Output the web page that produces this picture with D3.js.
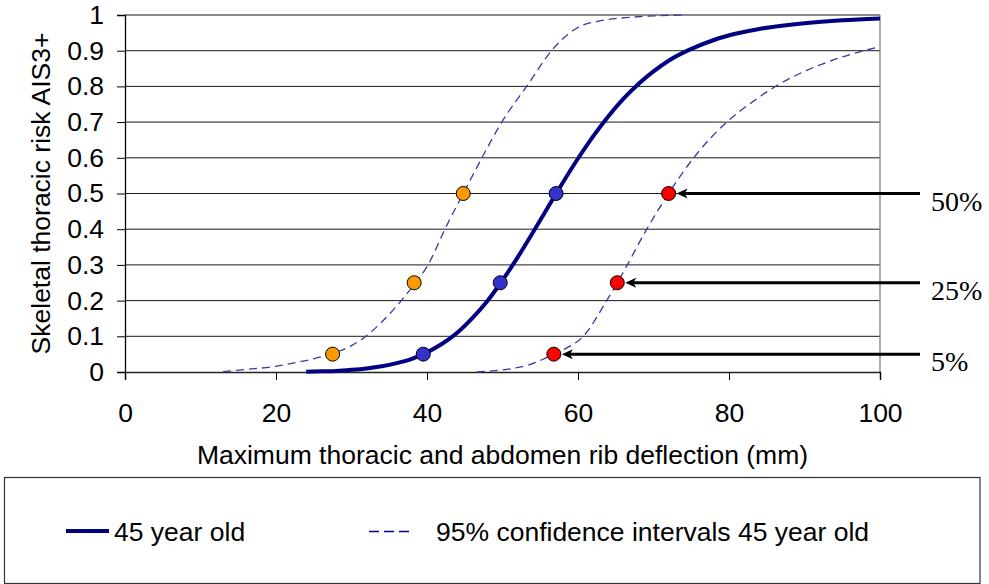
<!DOCTYPE html>
<html>
<head>
<meta charset="utf-8">
<script src="https://cdn.jsdelivr.net/npm/d3@7"></script>
<style>
  html, body { margin: 0; padding: 0; background: #fff; }
  svg { display: block; }
</style>
</head>
<body>
<svg id="chart" width="989" height="584"></svg>
<script>
// ---- data ----
const xTicks = [0, 20, 40, 60, 80, 100];
const yTicks = [0, 0.1, 0.2, 0.3, 0.4, 0.5, 0.6, 0.7, 0.8, 0.9, 1];

const mainX = [24, 26, 28, 30, 32, 34, 36, 38, 40, 42, 44, 46, 48, 50, 52, 54, 56, 58, 60, 62, 64, 66, 68, 70, 72, 75, 78, 81, 84, 87, 90, 95, 100];
const mainP = [0.001, 0.002, 0.003, 0.006, 0.01, 0.016, 0.025, 0.037, 0.055, 0.079, 0.11, 0.151, 0.199, 0.257, 0.321, 0.39, 0.461, 0.531, 0.598, 0.66, 0.716, 0.765, 0.807, 0.842, 0.872, 0.905, 0.93, 0.948, 0.961, 0.97, 0.977, 0.985, 0.99];

const lowerX = [13, 16, 20, 23, 25, 27.5, 30, 31.6, 34, 36.6, 38.3, 40, 42.6, 44.8, 47.4, 49.9, 53.2, 56.5, 59.8, 63, 67.3, 74];
const lowerP = [0.001, 0.007, 0.016, 0.028, 0.037, 0.052, 0.074, 0.095, 0.14, 0.20, 0.245, 0.295, 0.41, 0.50, 0.605, 0.70, 0.80, 0.90, 0.963, 0.984, 0.994, 1.0];

const upperX = [46.6, 49, 51.4, 53.5, 55.3, 56.8, 58, 60.7, 63.8, 65.2, 66.4, 68.7, 72.0, 75.7, 79.7, 83.2, 86.8, 90.3, 93.8, 97.3, 100];
const upperP = [0.0, 0.004, 0.010, 0.02, 0.035, 0.05, 0.062, 0.10, 0.20, 0.25, 0.295, 0.385, 0.50, 0.61, 0.70, 0.758, 0.808, 0.845, 0.874, 0.897, 0.911];

const riskLevels = [0.05, 0.25, 0.5];
const lowerPtsX = [27.5, 38.3, 44.8];
const mainPtsX  = [39.5, 49.7, 57.1];
const upperPtsX = [56.8, 65.2, 72.0];
const riskLabels = ["5%", "25%", "50%"];

const xTitle = "Maximum thoracic and abdomen rib deflection (mm)";
const yTitle = "Skeletal thoracic risk AIS3+";
const legendLabels = ["45 year old", "95% confidence intervals 45 year old"];

// ---- drawing ----
const SANS = "'Liberation Sans', Arial, sans-serif";
const SERIF = "'Liberation Serif', 'Times New Roman', serif";
const svg = d3.select("#chart");
const FS = 26.5;
const x = d3.scaleLinear().domain([0, 100]).range([125, 880]);
const y = d3.scaleLinear().domain([0, 1]).range([372, 15]);

// gridlines
svg.append("g").selectAll("line").data(yTicks.filter(d => d > 0)).join("line")
  .attr("x1", x(0)).attr("x2", x(100))
  .attr("y1", d => y(d)).attr("y2", d => y(d))
  .attr("stroke", "#1a1a1a").attr("stroke-width", 1);

// right border
svg.append("line").attr("x1", x(100)).attr("x2", x(100)).attr("y1", y(1)).attr("y2", y(0))
  .attr("stroke", "#808080").attr("stroke-width", 1.3);

// y axis
const yAxis = svg.append("g").attr("transform", `translate(${x(0)},0)`)
  .call(d3.axisLeft(y).tickValues(yTicks).tickFormat(d3.format("")).tickSize(8).tickPadding(13));
yAxis.select(".domain").attr("stroke", "#000").attr("stroke-width", 1.3);
yAxis.selectAll(".tick line").attr("stroke", "#000");
yAxis.selectAll("text").style("font-size", FS + "px").style("font-family", SANS).attr("fill", "#000");

// x axis
const xAxis = svg.append("g").attr("transform", `translate(0,${y(0)})`)
  .call(d3.axisBottom(x).tickValues(xTicks).tickSize(8).tickPadding(23));
xAxis.select(".domain").attr("stroke", "#222").attr("stroke-width", 1.5);
xAxis.selectAll(".tick line").attr("stroke", "#000");
xAxis.selectAll("text").style("font-size", FS + "px").style("font-family", SANS).attr("fill", "#000");

// axis titles
svg.append("text").attr("x", (x(0) + x(100)) / 2).attr("y", 464)
  .attr("text-anchor", "middle").style("font-size", FS + "px").style("font-family", SANS).text(xTitle);
svg.append("text").attr("transform", `translate(50,${(y(0) + y(1)) / 2}) rotate(-90)`)
  .attr("text-anchor", "middle").style("font-size", FS + "px").style("font-family", SANS).text(yTitle);

// curves
const line = d3.line().x(d => x(d[0])).y(d => y(d[1])).curve(d3.curveMonotoneX);
const zip = (a, b) => a.map((v, i) => [v, b[i]]);

svg.append("path").datum(zip(lowerX, lowerP)).attr("d", line)
  .attr("fill", "none").attr("stroke", "#3a3aa0").attr("stroke-width", 1.3).attr("stroke-dasharray", "8,5");
svg.append("path").datum(zip(upperX, upperP)).attr("d", line)
  .attr("fill", "none").attr("stroke", "#3a3aa0").attr("stroke-width", 1.3).attr("stroke-dasharray", "8,5");
svg.append("path").datum(zip(mainX, mainP)).attr("d", line)
  .attr("fill", "none").attr("stroke", "#000080").attr("stroke-width", 4);

// arrows to the upper-bound points
const R = 7;
const arrows = svg.append("g");
upperPtsX.forEach((xv, i) => {
  const py = y(riskLevels[i]);
  const tip = x(xv) + R + 1;
  arrows.append("line").attr("x1", 920).attr("x2", tip + 6).attr("y1", py).attr("y2", py)
    .attr("stroke", "#000").attr("stroke-width", 3);
  arrows.append("path")
    .attr("d", `M${tip},${py} L${tip + 11},${py - 5} L${tip + 8},${py} L${tip + 11},${py + 5} Z`)
    .attr("fill", "#000");
  arrows.append("text").attr("x", 931).attr("y", py + 17)
    .style("font-family", SERIF).style("font-size", "28px").attr("fill", "#000")
    .text(riskLabels[i]);
});

// points
const drawPts = (xs, color) => svg.append("g").selectAll("circle").data(xs).join("circle")
  .attr("cx", d => x(d)).attr("cy", (d, i) => y(riskLevels[i])).attr("r", R)
  .attr("fill", color).attr("stroke", "#000").attr("stroke-width", 1);
drawPts(lowerPtsX, "#FF9900");
drawPts(mainPtsX, "#3333CC");
drawPts(upperPtsX, "#FF0000");

// legend
const lg = svg.append("g");
lg.append("rect").attr("x", 4.5).attr("y", 477.5).attr("width", 975.5).attr("height", 106)
  .attr("fill", "none").attr("stroke", "#333").attr("stroke-width", 1.2);
lg.append("line").attr("x1", 66).attr("x2", 109).attr("y1", 531).attr("y2", 531)
  .attr("stroke", "#000080").attr("stroke-width", 4);
lg.append("text").attr("x", 114).attr("y", 541).style("font-size", FS + "px").style("font-family", SANS).text(legendLabels[0]);
lg.append("line").attr("x1", 369).attr("x2", 409).attr("y1", 531.5).attr("y2", 531.5)
  .attr("stroke", "#000080").attr("stroke-width", 1.6).attr("stroke-dasharray", "10,5");
lg.append("text").attr("x", 436).attr("y", 541).style("font-size", FS + "px").style("font-family", SANS).text(legendLabels[1]);
</script>
</body>
</html>
